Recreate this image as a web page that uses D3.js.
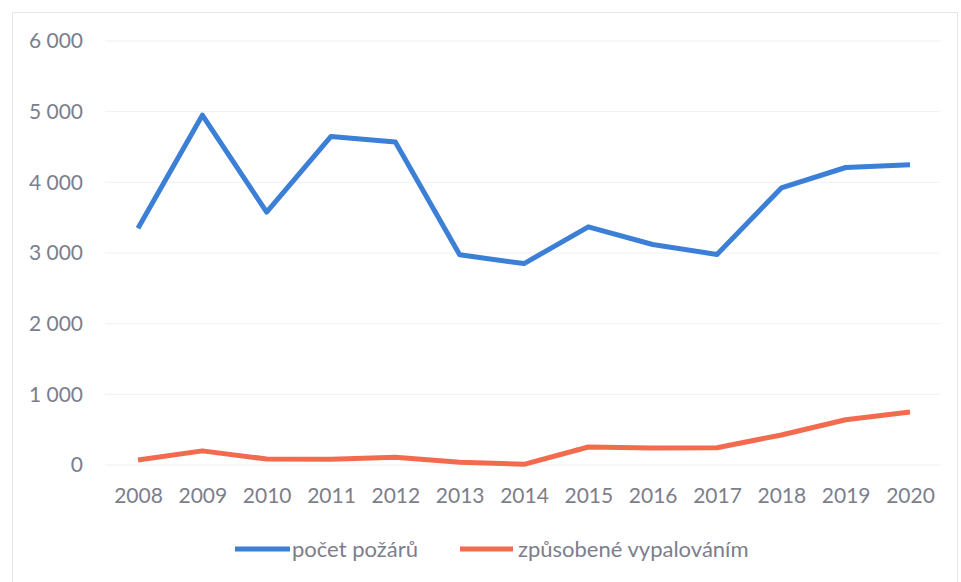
<!DOCTYPE html>
<html><head><meta charset="utf-8">
<script src="https://cdn.jsdelivr.net/npm/d3@7"></script>
<style>body{margin:0;background:#fff}svg{display:block}text{font-family:Lato,"Open Sans",sans-serif}</style>
</head><body><svg id="c" width="961" height="582"></svg>
<script>
const years = ["2008","2009","2010","2011","2012","2013","2014","2015","2016","2017","2018","2019","2020"];
const pocetPozaru = [3350,4950,3580,4650,4570,2975,2850,3370,3120,2980,3920,4210,4250];
const vypalovani = [70,200,85,80,110,40,10,255,240,245,425,640,750];
const yTicks = [0,1000,2000,3000,4000,5000,6000];
const seriesNames = ["počet požárů","způsobené vypalováním"];
const colors = ["#3b7fd6","#f26b4f"];

const svg = d3.select("#c");
svg.append("rect").attr("x",12.5).attr("y",12.5).attr("width",945).attr("height",570)
  .attr("fill","#fff").attr("stroke","#e4e6ea");

const x = d3.scalePoint().domain(years).range([138,910]);
const y = d3.scaleLinear().domain([0,6000]).range([465,41]);

const fmt = v => d3.format(",")(v).replace(/,/g," ");
const yAxis = svg.append("g").attr("transform","translate(105,0)")
  .call(d3.axisLeft(y).tickValues(yTicks).tickFormat(fmt).tickSize(0).tickPadding(22));
yAxis.select(".domain").remove();
yAxis.selectAll("text").attr("fill","#7c7e8c").attr("font-size",21);

svg.append("g").selectAll("line").data(yTicks).join("line")
  .attr("x1",105).attr("x2",940).attr("y1",d=>y(d)).attr("y2",d=>y(d))
  .attr("stroke","#eef1f5").attr("stroke-width",1);

const xAxis = svg.append("g").attr("transform","translate(0,465)")
  .call(d3.axisBottom(x).tickSize(0).tickPadding(23));
xAxis.select(".domain").remove();
xAxis.selectAll("text").attr("fill","#7c7e8c").attr("font-size",21);

const line = d3.line().x((d,i)=>x(years[i])).y(d=>y(d));
[pocetPozaru, vypalovani].forEach((s,k)=>{
  svg.append("path").datum(s).attr("d",line).attr("fill","none")
    .attr("stroke",colors[k]).attr("stroke-width",5).attr("stroke-linejoin","round");
});

const leg = [{x:235,w:55,tx:292},{x:460,w:53,tx:518}];
leg.forEach((l,k)=>{
  svg.append("line").attr("x1",l.x).attr("x2",l.x+l.w).attr("y1",549).attr("y2",549)
    .attr("stroke",colors[k]).attr("stroke-width",5);
  svg.append("text").attr("x",l.tx).attr("y",557).attr("fill","#7c7e8c").attr("font-size",22)
    .text(seriesNames[k]);
});
</script></body></html>
